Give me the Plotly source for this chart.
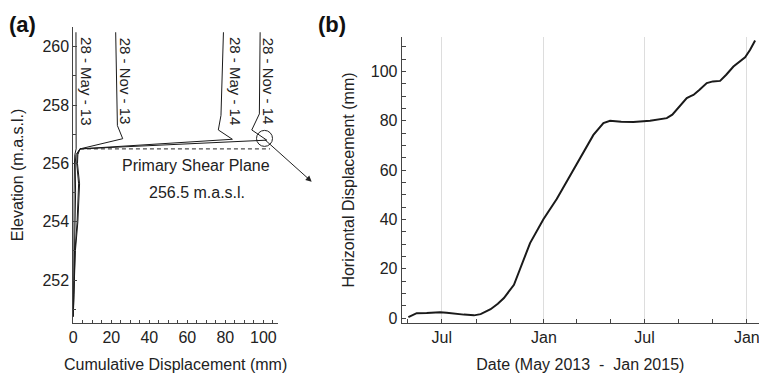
import plotly.graph_objects as go

# ---------- Panel (a): inclinometer profiles ----------
may13_elev = [260.5, 258.0, 256.6, 256.5, 256.3, 256.0, 255.0, 253.0, 251.0, 250.75]
may13_disp = [1.4, 1.5, 1.5, 1.5, 0.8, 0.6, 0.4, 0.2, 0.1, 0.0]

nov13_elev = [260.5, 257.3, 256.85, 256.5, 256.3, 256.0, 255.0, 254.0, 253.0, 251.5, 250.75]
nov13_disp = [22.3, 23.2, 26.0, 3.5, 1.4, 1.0, 1.2, 1.0, 0.6, 0.2, 0.0]

may14_elev = [260.5, 257.65, 257.15, 256.83, 256.5, 256.3, 256.0, 255.3, 254.0, 253.0, 251.5, 250.75]
may14_disp = [79.0, 77.7, 76.3, 83.7, 3.5, 2.0, 1.8, 2.8, 2.0, 0.9, 0.3, 0.0]

nov14_elev = [260.5, 257.7, 257.15, 256.8, 256.5, 256.3, 256.0, 255.3, 254.0, 253.0, 251.5, 250.75]
nov14_disp = [98.3, 97.9, 93.9, 101.8, 3.5, 2.4, 2.2, 3.3, 2.4, 1.1, 0.3, 0.0]

profile_labels = ["28 - May - 13", "28 - Nov - 13", "28 - May - 14", "28 - Nov - 14"]
label_x = [6.6, 27.3, 85.1, 102.6]
label_y = 258.83

shear_plane_elev = 256.5
a_xticks = [0, 20, 40, 60, 80, 100]
a_yticks = [252, 254, 256, 258, 260]

# ---------- Panel (b): horizontal displacement time series ----------
b_dates = [
    "2013-05-02", "2013-05-10", "2013-05-17", "2013-06-04", "2013-06-28", "2013-07-10",
    "2013-07-22", "2013-08-10", "2013-08-28", "2013-09-09", "2013-09-27", "2013-10-10",
    "2013-10-21", "2013-11-08", "2013-11-19", "2013-12-07", "2013-12-31", "2014-01-24",
    "2014-02-11", "2014-02-25", "2014-03-13", "2014-03-31", "2014-04-18", "2014-04-30",
    "2014-05-20", "2014-06-11", "2014-07-11", "2014-07-30", "2014-08-10", "2014-08-20",
    "2014-08-28", "2014-09-15", "2014-09-22", "2014-09-27", "2014-10-08", "2014-10-21",
    "2014-11-01", "2014-11-14", "2014-11-25", "2014-12-08", "2014-12-29", "2015-01-07",
    "2015-01-16",
]
b_values = [
    0.4, 1.1, 2.0, 2.1, 2.4, 2.2,
    1.8, 1.4, 1.1, 1.6, 3.6, 5.8,
    8.1, 13.5, 19.9, 30.4, 40.1, 48.3,
    55.4, 61.0, 67.6, 74.3, 79.1, 80.0,
    79.6, 79.5, 80.0, 80.5, 81.1, 82.5,
    84.5, 89.2, 90.0, 90.5, 92.6, 95.3,
    96.0, 96.2, 98.7, 102.0, 105.8, 108.8,
    112.6,
]
b_xtick_vals = ["2013-07-01", "2014-01-01", "2014-07-01", "2015-01-01"]
b_xtick_text = ["Jul", "Jan", "Jul", "Jan"]
b_yticks = [0, 20, 40, 60, 80, 100]

FONT = "Liberation Sans, Arial, sans-serif"
TXT = "#222222"
AX = "#444444"
W, H = 759, 373
ML, MR, MT, MB = 45, 0, 27, 50
IW, IH = W - ML - MR, H - MT - MB


def px_x(p):
    return (p - ML) / IW


def px_y(p):
    return (H - MB - p) / IH


fig = go.Figure()

for disp, elev in [(may13_disp, may13_elev), (nov13_disp, nov13_elev),
                   (may14_disp, may14_elev), (nov14_disp, nov14_elev)]:
    fig.add_trace(go.Scatter(x=disp, y=elev, mode="lines",
                             line=dict(color="#1a1a1a", width=1),
                             showlegend=False, xaxis="x", yaxis="y"))

fig.add_trace(go.Scatter(x=b_dates, y=b_values, mode="lines",
                         line=dict(color="#1a1a1a", width=2),
                         showlegend=False, xaxis="x2", yaxis="y2"))

common_axis = dict(showline=True, linecolor=AX, linewidth=1, ticks="inside",
                   tickcolor=AX, zeroline=False, automargin=False,
                   ticklabeloverflow="allow",
                   tickfont=dict(family=FONT, size=16, color=TXT))

fig.update_layout(
    width=W, height=H,
    margin=dict(l=ML, r=MR, t=MT, b=MB, autoexpand=False),
    paper_bgcolor="white", plot_bgcolor="white",
    font=dict(family=FONT, size=16, color=TXT),
    xaxis=dict(domain=[px_x(73.3), px_x(278)], range=[0, 107.7], anchor="y",
               tickvals=a_xticks, ticklen=3, showgrid=False,
               minor=dict(dtick=5, tick0=0, ticks="inside", ticklen=3, tickcolor=AX),
               title=dict(text="Cumulative Displacement (mm)", standoff=14,
                          font=dict(family=FONT, size=16, color=TXT)),
               **common_axis),
    yaxis=dict(domain=[px_y(323), px_y(27)], range=[250.53, 260.68], anchor="x",
               tickvals=a_yticks, ticklen=4, showgrid=False,
               minor=dict(dtick=1, tick0=250, ticks="inside", ticklen=3, tickcolor=AX),
               title=dict(text="Elevation (m.a.s.l.)", standoff=14,
                          font=dict(family=FONT, size=16, color=TXT)),
               **common_axis),
    xaxis2=dict(domain=[px_x(401.7), 1.0], type="date",
                range=["2013-04-20", "2015-01-23"], anchor="y2",
                tickmode="array", tickvals=b_xtick_vals, ticktext=b_xtick_text,
                ticklen=4, showgrid=True, gridcolor="#dddddd", gridwidth=1,
                minor=dict(tickmode="linear", tick0="2013-05-01", dtick="M2",
                           ticks="inside", ticklen=4, tickcolor=AX, showgrid=False),
                title=dict(text="Date (May 2013  -  Jan 2015)", standoff=15,
                           font=dict(family=FONT, size=16, color=TXT)),
                **common_axis),
    yaxis2=dict(domain=[px_y(323), px_y(37)], range=[-2, 114], anchor="x2",
                tickvals=b_yticks, ticklen=4, showgrid=False,
                minor=dict(dtick=5, tick0=0, ticks="inside", ticklen=4, tickcolor=AX),
                title=dict(text="Horizontal Displacement (mm)", standoff=12,
                           font=dict(family=FONT, size=16, color=TXT)),
                **common_axis),
)

# Dashed shear plane line
fig.add_shape(type="line", xref="x", yref="y", x0=3.5, x1=103.5,
              y0=shear_plane_elev, y1=shear_plane_elev,
              line=dict(color="#222222", width=1, dash="4px,3px"))

# Circle highlighting Nov-14 kink
fig.add_shape(type="circle", xref="x", yref="y", xsizemode="pixel", ysizemode="pixel",
              xanchor=100.6, yanchor=256.86, x0=-8, x1=8, y0=-8, y1=8,
              line=dict(color="#222222", width=1))

# Arrow from circle outward
fig.add_annotation(x=px_x(311.7), y=px_y(181.7), xref="paper", yref="paper",
                   ax=-48.4, ay=-43.4, axref="pixel", ayref="pixel",
                   showarrow=True, arrowhead=2, arrowsize=1.2, arrowwidth=1,
                   arrowcolor="#222222", text="", standoff=0, startstandoff=0)

# Profile date labels (rotated)
for txt, lx in zip(profile_labels, label_x):
    fig.add_annotation(x=lx, y=label_y, xref="x", yref="y", text=txt, textangle=90,
                       showarrow=False, xanchor="center", yanchor="middle",
                       font=dict(family=FONT, size=15, color=TXT))

fig.add_annotation(x=64.8, y=255.94, xref="x", yref="y", text="Primary Shear Plane",
                   showarrow=False, xanchor="center", yanchor="middle",
                   font=dict(family=FONT, size=16, color=TXT))
fig.add_annotation(x=65.0, y=255.02, xref="x", yref="y", text="256.5 m.a.s.l.",
                   showarrow=False, xanchor="center", yanchor="middle",
                   font=dict(family=FONT, size=16, color=TXT))

# Panel letters
fig.add_annotation(x=px_x(22.5), y=px_y(25), xref="paper", yref="paper", text="<b>(a)</b>",
                   showarrow=False, xanchor="center", yanchor="middle",
                   font=dict(family=FONT, size=22, color="#111111"))
fig.add_annotation(x=px_x(332), y=px_y(25), xref="paper", yref="paper", text="<b>(b)</b>",
                   showarrow=False, xanchor="center", yanchor="middle",
                   font=dict(family=FONT, size=22, color="#111111"))

fig.write_html("out.html", config={"displayModeBar": False},
               post_script="document.body.style.margin='0';")
